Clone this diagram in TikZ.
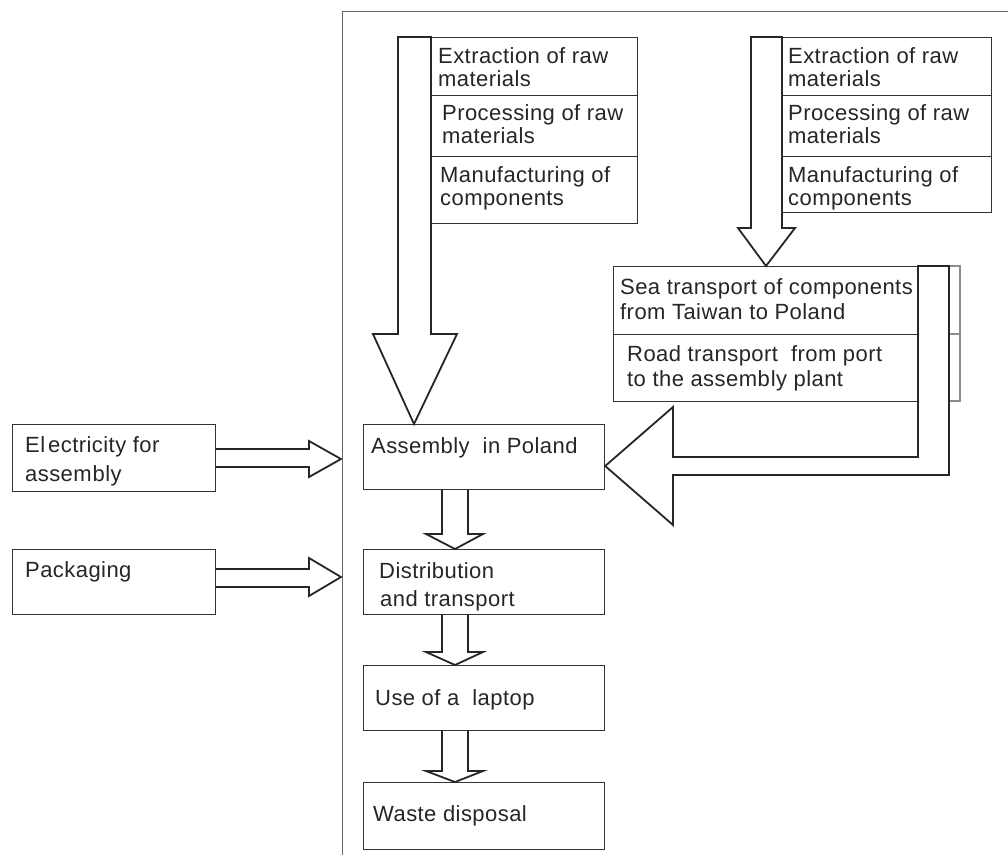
\documentclass[tikz,border=0pt]{standalone}
\usepackage{fontspec}
\setmainfont{Liberation Sans}[LetterSpace=2]
\usetikzlibrary{calc}
\newcommand\twoline[3]{\vtop{\baselineskip=#1pt\hbox{#2}\hbox{#3}}}
\tikzset{
  box/.style={draw=black!80, line width=1.2pt, fill=white, inner sep=0pt, anchor=north west},
  blk/.style={draw=black!85, line width=1.8pt, fill=white, line join=miter},
  lbl/.style={inner sep=0pt, anchor=base west, text=black!85, font=\fontsize{22}{24}\selectfont},
  frameline/.style={draw=black!60, line width=1pt}
}
\begin{document}
\begin{tikzpicture}[x=1pt,y=-1pt]
\useasboundingbox (0,0) rectangle (1008,855);
\fill[white] (0,0) rectangle (1008,855);
% frame
\draw[frameline] (342,855) -- (342,11) -- (1008,11);

% left stack boxes
\node[box, minimum width=206pt, minimum height=58pt] (ex1) at (431,37) {};
\node[box, minimum width=206pt, minimum height=61pt] (pr1) at (431,95) {};
\node[box, minimum width=206pt, minimum height=67pt] (mf1) at (431,156) {};
% right stack boxes
\node[box, minimum width=209pt, minimum height=58pt] (ex2) at (782,37) {};
\node[box, minimum width=209pt, minimum height=61pt] (pr2) at (782,95) {};
\node[box, minimum width=209pt, minimum height=56pt] (mf2) at (782,156) {};
% transport boxes
\node[box, minimum width=347pt, minimum height=68pt] (sea) at (613,266) {};
\node[box, minimum width=347pt, minimum height=67pt] (road) at (613,334) {};
\draw[draw=black!45, line width=1.2pt, fill=white] (940,266) rectangle (960,334);
\draw[draw=black!45, line width=1.2pt, fill=white] (940,334) rectangle (960,401);
% main chain
\node[box, minimum width=241pt, minimum height=65pt] (asm) at (363,424) {};
\node[box, minimum width=241pt, minimum height=65pt] (dist) at (363,549) {};
\node[box, minimum width=241pt, minimum height=65pt] (use) at (363,665) {};
\node[box, minimum width=241pt, minimum height=67pt] (waste) at (363,782) {};
% left inputs
\node[box, minimum width=203pt, minimum height=67pt] (elec) at (12,424) {};
\node[box, minimum width=203pt, minimum height=65pt] (pack) at (12,549) {};

% labels
\node[lbl] (t1) at (438,63) {\twoline{23}{Extraction of raw}{materials}};
\node[lbl] (t2) at (442,120) {\twoline{23}{Processing of raw}{materials}};
\node[lbl] (t3) at (440,182) {\twoline{23}{Manufacturing of}{components}};
\node[lbl] (t4) at (788,63) {\twoline{23}{Extraction of raw}{materials}};
\node[lbl] (t5) at (788,120) {\twoline{23}{Processing of raw}{materials}};
\node[lbl] (t6) at (788,182) {\twoline{23}{Manufacturing of}{components}};
\node[lbl] (t7) at (620,294) {\twoline{25}{Sea transport of components}{from Taiwan to Poland}};
\node[lbl] (t8) at (627,361) {\twoline{25}{Road transport\ \ from port}{to the assemb\kern1pt ly plant}};
\node[lbl] (t9) at (371,453) {Assembly\ \ in Poland};
\node[lbl] (t10) at (379,578) {\twoline{28}{Distribution}{\kern1pt and transport}};
\node[lbl] (t11) at (375,705) {Use of a\ \ laptop};
\node[lbl] (t12) at (373,821) {Waste disposal};
\node[lbl] (t13) at (25,452) {\twoline{29}{El\kern3pt ectricity for}{assem\kern1pt bly}};
\node[lbl] (t14) at (25,577) {Packaging};

% big down arrow, left stack -> assembly
\draw[blk] (398,37) -- (398,334) -- (373,334) -- (asm.north -| 414,0) -- (457,334) -- (431,334) -- (431,37) -- cycle;
% big down arrow, right stack -> sea transport
\draw[blk] (751,37) -- (751,228) -- (738,228) -- (766,266) -- (795,228) -- (782,228) -- (782,37) -- cycle;
% L-shaped arrow, transport -> assembly
\draw[blk] (918,266) -- (918,457) -- (673,457) -- (673,407) -- (asm.east |- 0,466) -- (673,525) -- (673,475) -- (949,475) -- (949,266) -- cycle;
% inputs
\draw[blk] (elec.east |- 0,449) -- (309,449) -- (309,441) -- (341,459) -- (309,477) -- (309,467) -- (elec.east |- 0,467) ;
\draw[blk] (pack.east |- 0,569) -- (309,569) -- (309,558) -- (341,577) -- (309,596) -- (309,587) -- (pack.east |- 0,587) ;
% chain arrows
\draw[blk] (asm.south -| 442,0) -- (442,534) -- (426,534) -- (dist.north -| 455,0) -- (483,534) -- (468,534) -- (asm.south -| 468,0);
\draw[blk] (dist.south -| 442,0) -- (442,652) -- (426,652) -- (use.north -| 455,0) -- (483,652) -- (468,652) -- (dist.south -| 468,0);
\draw[blk] (use.south -| 442,0) -- (442,771) -- (426,771) -- (waste.north -| 455,0) -- (483,771) -- (468,771) -- (use.south -| 468,0);
\end{tikzpicture}
\end{document}
